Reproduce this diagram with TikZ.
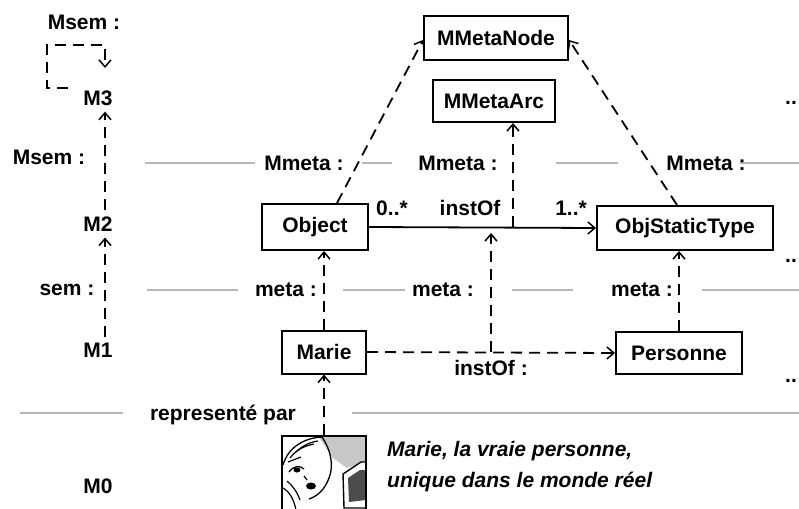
\documentclass[tikz,border=0pt]{standalone}
\usepackage{fontspec}
\setmainfont{Liberation Sans}
\usetikzlibrary{arrows.meta}
\begin{document}
\begin{tikzpicture}[x=1pt,y=-1pt,
  every node/.style={font=\fontsize{21}{25}\selectfont\bfseries},
  box/.style={draw, line width=2pt, minimum height=44pt, inner sep=0pt, fill=white},
  lvl/.style={inner sep=6pt},
  lbl/.style={inner sep=0pt},
  tipv/.style={-{Straight Barb[length=7pt,width=12pt,line width=1.5pt]}},
  dep/.style={tipv, dash pattern=on 11pt off 7pt, line width=1.8pt},
  assoc/.style={tipv, line width=1.8pt},
  sep/.style={draw=black!28, line width=1.6pt},
]
\useasboundingbox (0,0) rectangle (799,508);

% level separators
\draw[sep] (145,163) -- (255,163) (362,163) -- (392,163) (556,163) -- (618,163) (740,163) -- (799,163);
\draw[sep] (147,290) -- (238,290) (343,290) -- (405,290) (512,290) -- (573,290) (702,290) -- (799,290);
\draw[sep] (20,413) -- (123,413) (352,413) -- (799,413);

% level names
\node[lvl] (M3) at (98,98) {M3};
\node[lvl] (M2) at (98,224) {M2};
\node[lvl] (M1) at (98,350) {M1};
\node[lvl] (M0) at (98,486) {M0};
\node[lbl] (msemtop) at (84,22) {Msem :};
\node[lbl] (msem) at (49,157) {Msem :};
\node[lbl] (sem) at (67,290) {sem :};

% classes and instances
\node[box, minimum width=144pt] (mnode) at (496,38) {MMetaNode};
\node[box, minimum width=122pt, minimum height=42pt] (marc) at (494,101) {MMetaArc};
\node[box, minimum width=106pt, minimum height=46pt] (obj) at (315,227) {Object};
\node[box, minimum width=176pt] (ost) at (685,228) {ObjStaticType};
\node[box, minimum width=84pt, minimum height=43pt] (marie) at (324,352) {Marie};
\node[box, minimum width=126pt, minimum height=42pt] (pers) at (679,353) {Personne};

% level labels on the separators
\node[lbl] (mm1) at (304,163) {Mmeta :};
\node[lbl] (mm2) at (458,163) {Mmeta :};
\node[lbl] (mm3) at (706,163) {Mmeta :};
\node[lbl] (me1) at (286,290) {meta :};
\node[lbl] (me2) at (443,290) {meta :};
\node[lbl] (me3) at (642,290) {meta :};
\node[lbl] (rep) at (223,415) {representé par};

% continuation marks
\node[lbl] (d1) at (791,103) {..};
\node[lbl] (d2) at (791,261) {..};
\node[lbl] (d3) at (791,381) {..};

% level hierarchy
\coordinate (lpa) at (68,88);
\coordinate (lpb) at (105,68);
\draw[dep] (lpa) -| (47,45) -| (lpb);
\draw[dep] ([xshift=7pt]M2.north) -- ([xshift=7pt]M3.south);
\draw[dep] ([xshift=7pt]M1.north) -- ([xshift=7pt]M2.south);

% association between Object and ObjStaticType
\draw[assoc] (obj.east) -- (ost.west);
\node[lbl] (m0) at (392,208) {0..*};
\node[lbl] (io) at (470,208) {instOf};
\node[lbl] (m1) at (571,208) {1..*};
\coordinate (aon) at (513,227);
\draw[dep] (aon) -- (aon |- marc.south);

% meta relations
\draw[dep] ([xshift=22pt]obj.north) -- ([yshift=-2pt]mnode.west);
\draw[dep] ([xshift=-8pt]ost.north) -- ([yshift=-2pt]mnode.east);
\draw[dep] (marie.north) -- (marie.north |- obj.south);
\draw[dep] (pers.north) -- (pers.north |- ost.south);

% instance link
\draw[dep] (marie.east) -- (pers.west);
\coordinate (iln) at (491,352);
\coordinate (ilt) at (491,233);
\draw[dep] (iln) -- (ilt);
\node[lbl] (iol) at (491,368) {instOf :};

% the real person
\begin{scope}
  \clip (282,436) rectangle (366,510);
  \fill[black!22] (318,436) -- (366,436) -- (366,462) -- (347,468) -- (333,458) -- cycle;
  \draw[line width=1.3pt] (283,465) .. controls (288,448) and (303,438) .. (322,437);
  \draw[line width=1.2pt] (290,458) .. controls (296,450) and (304,446) .. (314,444);
  \draw[line width=1.2pt] (296,452) .. controls (302,446) and (310,442) .. (318,441);
  \draw[line width=1.3pt] (322,437) .. controls (331,450) and (334,466) .. (329,478)
        .. controls (325,489) and (318,496) .. (309,499);
  \draw[line width=1.2pt] (288,462) -- (301,457);
  \draw[line width=1.3pt] (289,472) .. controls (293,466) and (300,465) .. (304,469);
  \fill (297,470) ellipse (3.5 and 2.5);
  \fill (311,486) ellipse (5 and 3.5);
  \draw[line width=1.2pt] (304,476) -- (307,480);
  \draw[line width=1.2pt] (283,488) .. controls (290,492) and (294,500) .. (296,510);
  \draw[line width=1.2pt] (287,481) .. controls (293,486) and (297,492) .. (300,500);
  \draw[line width=1.4pt, fill=white] (343,474) -- (361,462) -- (366,462) -- (366,508) -- (344,508) -- cycle;
  \fill[black!70] (348,478) -- (360,470) -- (366,470) -- (366,500) -- (349,502) -- cycle;
\end{scope}
\draw[line width=1.8pt] (282,436) rectangle (366,512);
\node[inner sep=0pt] (img) at (324,436) {};
\draw[dep] (img) -- (marie.south);

\node[lbl, anchor=west, font=\fontsize{21}{25}\selectfont\bfseries\itshape] (cap1) at (387,451) {Marie, la vraie personne,};
\node[lbl, anchor=west, font=\fontsize{21}{25}\selectfont\bfseries\itshape] (cap2) at (387,482) {unique dans le monde réel};
\end{tikzpicture}
\end{document}
